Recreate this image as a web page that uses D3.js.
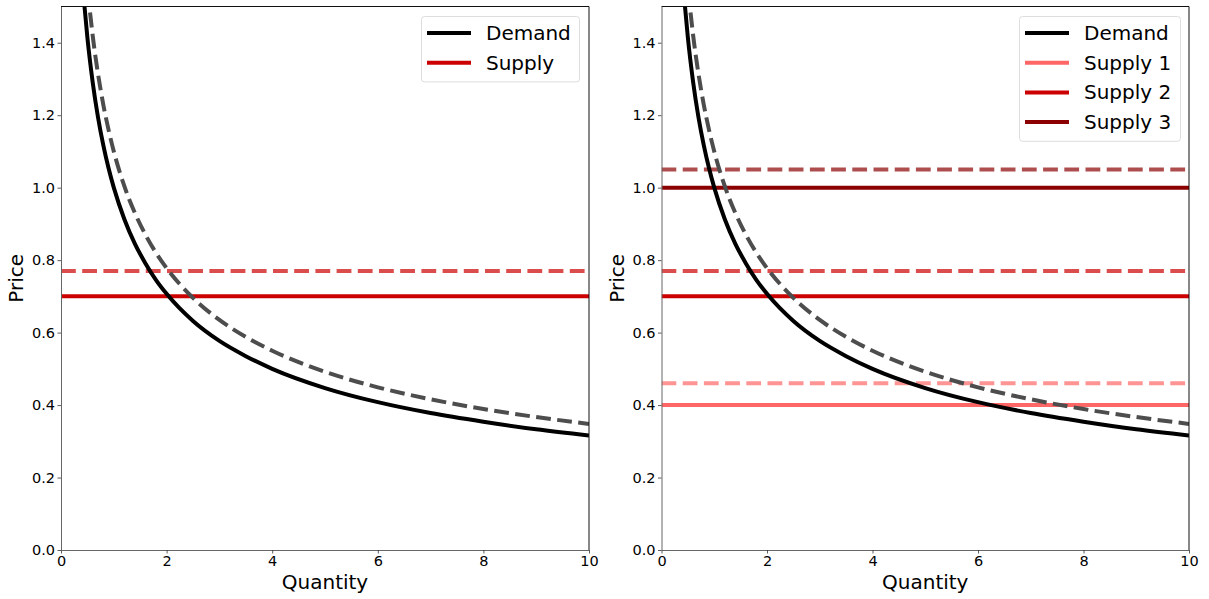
<!DOCTYPE html>
<html><head><meta charset="utf-8">
<script src="https://cdn.jsdelivr.net/npm/d3@7"></script>
<style>body{margin:0;background:#fff}svg{display:block;font-family:"DejaVu Sans",sans-serif}</style>
</head><body><svg id="c" width="1209" height="599"></svg>
<script>
// Quantity samples and demand prices
const quantity = [0.44,0.5,0.6,0.7,0.8,0.9,1.0,1.2,1.4,1.6,1.8,2.0,2.5,3.0,3.5,4.0,5.0,6.0,7.0,8.0,9.0,10.0];
const demand = [1.508,1.414,1.291,1.195,1.118,1.054,1.0,0.913,0.845,0.791,0.745,0.707,0.632,0.577,0.535,0.5,0.447,0.408,0.378,0.354,0.333,0.316];
const demandShifted = [1.658,1.556,1.420,1.315,1.230,1.160,1.1,1.004,0.930,0.870,0.820,0.778,0.696,0.635,0.588,0.55,0.492,0.449,0.416,0.389,0.367,0.348];
// Supply levels: [solid, dashed]
const leftSupplyNames = ["Supply"];
const leftSupply = [0.70];
const leftSupplyShifted = [0.77];
const rightSupplyNames = ["Supply 1","Supply 2","Supply 3"];
const rightSupply = [0.40,0.70,1.00];
const rightSupplyShifted = [0.46,0.77,1.05];
const xTicks = [0,2,4,6,8,10];
const yTicks = [0.0,0.2,0.4,0.6,0.8,1.0,1.2,1.4];

const svg = d3.select("#c");
const plotTop = 6.5, plotBottom = 550;
const panels = [
  {x0:61, x1:589, names:leftSupplyNames, s:leftSupply, sd:leftSupplyShifted,
   colors:["#cc0000"], dcolors:["rgb(219,77,77)"], legend:{x:421,w:158}},
  {x0:661.5, x1:1189, names:rightSupplyNames, s:rightSupply, sd:rightSupplyShifted,
   colors:["#ff6666","#cc0000","#8b0000"], dcolors:["rgb(255,148,148)","rgb(219,77,77)","rgb(174,77,77)"], legend:{x:1019,w:161}}
];
const lw = 4, dash = "14.8,6.4";
panels.forEach((p,i)=>{
  const x = d3.scaleLinear().domain([0,10]).range([p.x0,p.x1]);
  const y = d3.scaleLinear().domain([0,1.5]).range([plotBottom,plotTop]);
  const g = svg.append("g");
  const cid = "clip"+i;
  svg.append("clipPath").attr("id",cid).append("rect")
    .attr("x",p.x0).attr("y",plotTop).attr("width",p.x1-p.x0).attr("height",plotBottom-plotTop);
  const pg = g.append("g").attr("clip-path",`url(#${cid})`);
  const line = d3.line().x((d,k)=>x(quantity[k])).y(d=>y(d)).curve(d3.curveMonotoneX);
  p.s.forEach((v,k)=>{
    pg.append("line").attr("x1",x(0)).attr("x2",x(10)).attr("y1",y(p.sd[k])).attr("y2",y(p.sd[k]))
      .attr("stroke",p.dcolors[k]).attr("stroke-width",lw).attr("stroke-dasharray",dash);
    pg.append("line").attr("x1",x(0)).attr("x2",x(10)).attr("y1",y(v)).attr("y2",y(v))
      .attr("stroke",p.colors[k]).attr("stroke-width",lw);
  });
  pg.append("path").datum(demand).attr("d",line).attr("fill","none").attr("stroke","#000").attr("stroke-width",lw);
  pg.append("path").datum(demandShifted).attr("d",line).attr("fill","none").attr("stroke","rgb(77,77,77)")
    .attr("stroke-width",lw).attr("stroke-dasharray",dash);
  const xa = g.append("g").attr("transform",`translate(0,${plotBottom})`)
    .call(d3.axisBottom(x).tickValues(xTicks).tickFormat(d3.format("d")).tickSize(3.5).tickSizeOuter(0));
  const ya = g.append("g").attr("transform",`translate(${p.x0},0)`)
    .call(d3.axisLeft(y).tickValues(yTicks).tickFormat(d3.format(".1f")).tickSize(3.5).tickSizeOuter(0));
  [xa,ya].forEach(a=>{
    a.select(".domain").attr("stroke","#666").attr("stroke-width",1);
    a.selectAll(".tick line").attr("stroke","#333").attr("stroke-width",0.8);
    a.selectAll("text").attr("font-size",14.5).attr("font-family","DejaVu Sans").attr("fill","#000");
  });
  xa.selectAll("text").attr("dy","0.71em").attr("y",5.5);
  ya.selectAll("text").attr("x",-6);
  g.append("line").attr("x1",p.x0).attr("x2",p.x1).attr("y1",plotTop).attr("y2",plotTop).attr("stroke","#111").attr("stroke-width",1);
  g.append("line").attr("x1",p.x1).attr("x2",p.x1).attr("y1",plotTop).attr("y2",plotBottom).attr("stroke","#111").attr("stroke-width",1);
  g.append("text").attr("x",(p.x0+p.x1)/2).attr("y",589).attr("text-anchor","middle")
    .attr("font-size",20).text("Quantity");
  g.append("text").attr("transform",`translate(${p.x0-38},${(plotTop+plotBottom)/2}) rotate(-90)`)
    .attr("text-anchor","middle").attr("font-size",20).text("Price");
  const items = [{n:"Demand",c:"#000"}].concat(p.names.map((n,k)=>({n:n,c:p.colors[k]})));
  const lg = g.append("g");
  const step = 29.7;
  lg.append("rect").attr("x",p.legend.x+0.5).attr("y",16.5).attr("width",p.legend.w).attr("height",items.length*step+6)
    .attr("rx",3).attr("fill","#fff").attr("fill-opacity",0.8).attr("stroke","#ddd").attr("stroke-width",1);
  items.forEach((it,k)=>{
    const yy = 33 + k*step;
    lg.append("line").attr("x1",p.legend.x+6).attr("x2",p.legend.x+50).attr("y1",yy).attr("y2",yy)
      .attr("stroke",it.c).attr("stroke-width",lw);
    lg.append("text").attr("x",p.legend.x+65).attr("y",yy+7).attr("font-size",20).text(it.n);
  });
});
</script></body></html>
